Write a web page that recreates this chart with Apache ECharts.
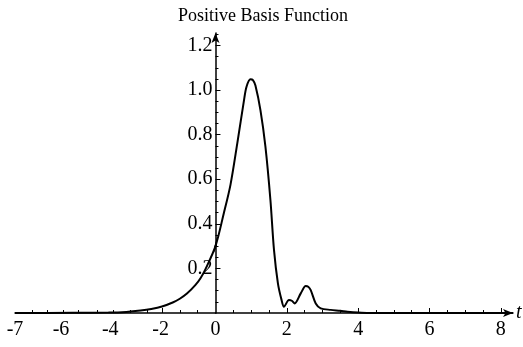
<!DOCTYPE html>
<html>
<head>
<meta charset="utf-8">
<script src="https://cdn.jsdelivr.net/npm/echarts@6/dist/echarts.min.js"></script>
<style>html,body{margin:0;padding:0;background:#fff}#c{width:523px;height:347px}</style>
</head>
<body>
<div id="c"></div>
<script>
// Curve samples (x in plot-axis units, y value)
const curveX = [-5.62, -4.0, -3.0, -2.5, -2.1, -1.8, -1.5, -1.2, -1.0, -0.8, -0.56, -0.42, -0.28, 0, 0.23, 0.42, 0.61, 0.80, 0.87, 0.98, 1.05, 1.12, 1.26, 1.40, 1.54, 1.64, 1.75, 1.85, 1.92, 2.06, 2.14, 2.22, 2.39, 2.53, 2.60, 2.67, 2.81, 2.95, 3.23, 3.5, 3.7, 4.0, 4.3, 8.34];
const curveY = [0, 0.0008, 0.002, 0.005, 0.011, 0.018, 0.029, 0.047, 0.064, 0.087, 0.126, 0.156, 0.197, 0.30, 0.445, 0.575, 0.76, 0.955, 1.015, 1.048, 1.045, 1.02, 0.91, 0.746, 0.507, 0.283, 0.133, 0.06, 0.028, 0.058, 0.055, 0.043, 0.088, 0.121, 0.118, 0.103, 0.043, 0.021, 0.014, 0.010, 0.006, 0.002, 0, 0];

// X axis tick labels (position on axis, text shown)
const xLabelPos = [-5.62, -4.33, -2.95, -1.54, 0, 2, 4, 6, 8];
const xLabelText = ['-7', '-6', '-4', '-2', '0', '2', '4', '6', '8'];
const xMajorTicks = [-1.49, 2, 4, 6, 8];
const xMinorTicks = [-5.14, -4.72, -4.27, -3.85, -3.31, -2.87, -2.39, -1.91, -0.98, -0.51, 0.5, 1, 1.5, 2.5, 3, 3.5, 4.5, 5, 5.5, 6.5, 7, 7.5];

// Y axis
const yLabelPos = [0.2, 0.4, 0.6, 0.8, 1.0, 1.2];
const yMinorTicks = [0.05, 0.1, 0.15, 0.25, 0.3, 0.35, 0.45, 0.5, 0.55, 0.65, 0.7, 0.75, 0.85, 0.9, 0.95, 1.05, 1.1, 1.15, 1.25];

const titleText = 'Positive Basis Function';
const xName = 't';

const FONT = 'Liberation Serif';
const FS = 20;
const chart = echarts.init(document.getElementById('c'), null, {renderer: 'canvas'});
const X_MIN = -5.62, X_MAX = 8.34, Y_MAX = 1.256;
const W = 523, GL = 15, GR = 10;
const zeroPx = GL + (W - GL - GR) * (0 - X_MIN) / (X_MAX - X_MIN);

const lineStyle = {color: '#000', width: 1.5};
const tickStyle = {color: '#000', width: 1};
const labelFmt = function (v) {
  for (let i = 0; i < xLabelPos.length; i++) if (Math.abs(xLabelPos[i] - v) < 1e-6) return xLabelText[i];
  return '';
};
const neg = a => a.filter(v => v < 0);
const pos = a => a.filter(v => v >= 0);
const xLabelStyle = {show: true, margin: 7, fontFamily: FONT, fontSize: FS, color: '#000', formatter: labelFmt};
const data = curveX.map((x, i) => [x, curveY[i]]);

chart.setOption({
  animation: false,
  backgroundColor: '#fff',
  title: {
    text: titleText, left: 173, top: 2,
    textStyle: {fontFamily: FONT, fontSize: 18, fontWeight: 'normal', color: '#000'}
  },
  grid: [
    {left: GL, right: W - zeroPx, top: 33, bottom: 34, outerBoundsMode: 'none', containLabel: false},
    {left: zeroPx, right: GR, top: 33, bottom: 34, outerBoundsMode: 'none', containLabel: false}
  ],
  xAxis: [{
    gridIndex: 0, type: 'value', min: X_MIN, max: 0, position: 'bottom',
    axisLine: {show: true, onZero: false, lineStyle: lineStyle},
    axisTick: {show: true, inside: true, length: 5, lineStyle: tickStyle, customValues: neg(xMajorTicks)},
    axisLabel: Object.assign({customValues: neg(xLabelPos)}, xLabelStyle),
    splitLine: {show: false}
  }, {
    gridIndex: 0, type: 'value', min: X_MIN, max: 0, position: 'bottom', offset: 0,
    axisLine: {show: false, onZero: false},
    axisTick: {show: true, inside: true, length: 3, lineStyle: tickStyle, customValues: neg(xMinorTicks)},
    axisLabel: {show: false},
    splitLine: {show: false}
  }, {
    gridIndex: 1, type: 'value', min: 0, max: X_MAX, position: 'bottom',
    name: xName, nameLocation: 'end', nameGap: 3,
    nameTextStyle: {fontFamily: FONT, fontSize: FS, fontStyle: 'italic', color: '#000', verticalAlign: 'middle'},
    axisLine: {show: true, onZero: false, lineStyle: lineStyle, symbol: ['none', 'arrow'], symbolSize: [6, 10]},
    axisTick: {show: true, inside: true, length: 5, lineStyle: tickStyle, customValues: pos(xMajorTicks)},
    axisLabel: Object.assign({customValues: pos(xLabelPos)}, xLabelStyle),
    splitLine: {show: false}
  }, {
    gridIndex: 1, type: 'value', min: 0, max: X_MAX, position: 'bottom', offset: 0,
    axisLine: {show: false, onZero: false},
    axisTick: {show: true, inside: true, length: 3, lineStyle: tickStyle, customValues: pos(xMinorTicks)},
    axisLabel: {show: false},
    splitLine: {show: false}
  }],
  yAxis: [{
    gridIndex: 0, type: 'value', min: 0, max: Y_MAX, show: false
  }, {
    gridIndex: 1, type: 'value', min: 0, max: Y_MAX, position: 'left',
    axisLine: {show: true, onZero: false, lineStyle: lineStyle, symbol: ['none', 'arrow'], symbolSize: [6, 10]},
    axisTick: {show: true, inside: true, length: 5, lineStyle: tickStyle, customValues: yLabelPos},
    axisLabel: {show: true, margin: 3, customValues: yLabelPos, fontFamily: FONT, fontSize: FS, color: '#000',
      formatter: function (v) { return v.toFixed(1); }},
    splitLine: {show: false}
  }, {
    gridIndex: 1, type: 'value', min: 0, max: Y_MAX, position: 'left', offset: 0,
    axisLine: {show: false, onZero: false},
    axisTick: {show: true, inside: true, length: 3, lineStyle: tickStyle, customValues: yMinorTicks},
    axisLabel: {show: false},
    splitLine: {show: false}
  }],
  series: [{
    type: 'line', xAxisIndex: 0, yAxisIndex: 0, data: data, clip: true,
    showSymbol: false, smooth: 0.3, lineStyle: {color: '#000', width: 2}, z: 3
  }, {
    type: 'line', xAxisIndex: 2, yAxisIndex: 1, data: data, clip: true,
    showSymbol: false, smooth: 0.3, lineStyle: {color: '#000', width: 2}, z: 3
  }]
});
</script>
</body>
</html>
